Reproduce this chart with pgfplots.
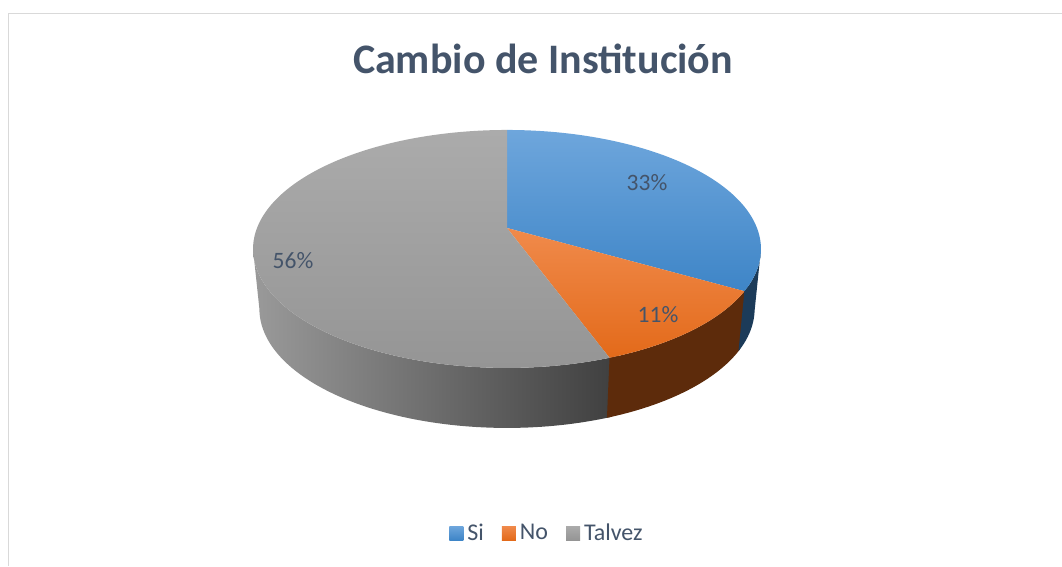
\documentclass[border=0pt]{standalone}
\usepackage{fontspec}
\setmainfont{Carlito}
\usepackage{pgfplots}
\pgfplotsset{compat=1.18}
\definecolor{txt}{HTML}{44546A}
\definecolor{bord}{HTML}{D9D9D9}
\definecolor{siT}{HTML}{6EA6DC}
\definecolor{siB}{HTML}{3E85C7}
\definecolor{noT}{HTML}{F08A4B}
\definecolor{noB}{HTML}{E36A1A}
\definecolor{taT}{HTML}{ABABAB}
\definecolor{taB}{HTML}{959595}
\definecolor{siS}{HTML}{1C3B59}
\definecolor{noS}{HTML}{5D2B0B}
\definecolor{taSL}{HTML}{9A9A9A}
\definecolor{taSR}{HTML}{3E3E3E}
% data (percent)
\def\vSi{33.33}
\def\vNo{11.11}
\def\vTal{55.56}
\begin{document}
\begin{tikzpicture}[declare function={
  px(\t,\z)=507+250*cos(\t)/(1+0.176*sin(\t))*(1-0.025*\z);
  py(\t,\z)=228-115.3*sin(\t)/(1+0.176*sin(\t))+60*\z;
  st(\u,\a,\b)=(\u<=1) ? (\a+(\b-\a)*\u) : (\b-(\b-\a)*(\u-1));
  sz(\u)=(\u>1) ? 1 : 0;
}]
\pgfmathsetmacro\aA{90}
\pgfmathsetmacro\aB{90-3.6*\vSi}
\pgfmathsetmacro\aC{\aB-3.6*\vNo}
\pgfmathsetmacro\aD{\aC-3.6*\vTal}
\pgfmathsetmacro\aR{-asin(0.176)}
\pgfmathsetmacro\aL{-180+asin(0.176)}
\pgfmathsetmacro\aCo{\aC+2}
\pgfmathsetmacro\aBo{\aB+2}
\begin{axis}[width=1062pt,height=566pt,scale only axis,
  xmin=0,xmax=1062,ymin=0,ymax=566,y dir=reverse,hide axis,clip=false,
  legend columns=3,
  legend style={at={(axis cs:546,533)},anchor=center,draw=none,fill=none,
    font=\fontsize{24}{26}\selectfont\color{txt},
    nodes={inner sep=0pt},
    /tikz/every odd column/.append style={column sep=4pt},
    /tikz/every even column/.append style={column sep=18pt}},
  legend image code/.code={\path[#1,draw=none] (0pt,-7pt) rectangle (14pt,7pt);},
]
% frame
\draw[bord,line width=1.4pt] (axis cs:8.5,566) -- (axis cs:8.5,13.5) -- (axis cs:1062,13.5);
% sides
\addplot[forget plot,draw=none,left color=taSL,right color=taSR,domain=0:2,samples=161,variable=\u]
  ({px(st(\u,\aL,\aCo),sz(\u))},{py(st(\u,\aL,\aCo),sz(\u))}) -- cycle;
\addplot[forget plot,draw=none,fill=noS,domain=0:2,samples=81,variable=\u]
  ({px(st(\u,\aC,\aBo),sz(\u))},{py(st(\u,\aC,\aBo),sz(\u))}) -- cycle;
\addplot[forget plot,draw=none,fill=siS,domain=0:2,samples=41,variable=\u]
  ({px(st(\u,\aB,\aR),sz(\u))},{py(st(\u,\aB,\aR),sz(\u))}) -- cycle;
% top faces
\addplot[draw=none,top color=siT,bottom color=siB,domain=\aB:\aA,samples=100,variable=\t]
  ({px(\t,0)},{py(\t,0)}) -- (axis cs:507,228) -- cycle;
\addlegendentry{Si}
\addplot[draw=none,top color=noT,bottom color=noB,domain=\aC:\aB,samples=40,variable=\t]
  ({px(\t,0)},{py(\t,0)}) -- (axis cs:507,228) -- cycle;
\addlegendentry{No}
\addplot[draw=none,top color=taT,bottom color=taB,domain=\aD:\aC,samples=160,variable=\t]
  ({px(\t,0)},{py(\t,0)}) -- (axis cs:507,228) -- cycle;
\addlegendentry{Talvez}
% labels
\node[font=\fontsize{23.5}{25}\selectfont,text=txt] at (axis cs:647,183) {33\%};
\node[font=\fontsize{23.5}{25}\selectfont,text=txt] at (axis cs:658,315) {11\%};
\node[font=\fontsize{23.5}{25}\selectfont,text=txt] at (axis cs:293,261) {56\%};
% title
\node[anchor=base,font=\fontsize{42}{46}\selectfont\bfseries,text=txt] at (axis cs:543,73) {Cambio de Institución};
\end{axis}
\pgfresetboundingbox
\path[use as bounding box] (0,0) rectangle (1062pt,566pt);
\end{tikzpicture}
\end{document}
